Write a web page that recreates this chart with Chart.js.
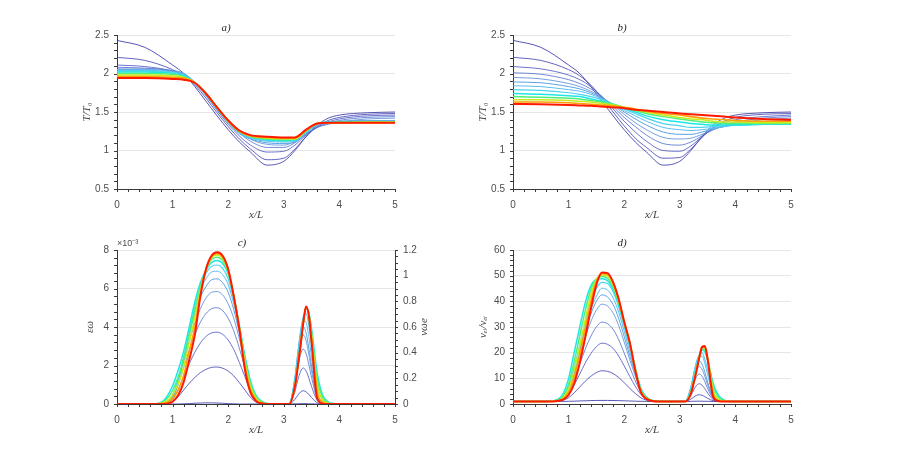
<!DOCTYPE html>
<html>
<head>
<meta charset="utf-8">
<script src="https://cdn.jsdelivr.net/npm/chart.js@4.4.1/dist/chart.umd.min.js"></script>
<style>
  body { margin: 0; background: #fff; width: 900px; height: 455px; position: relative; overflow: hidden; }
  canvas { position: absolute; }
</style>
</head>
<body>
<canvas id="panelA" width="363" height="222" style="left:57px;top:8px;width:363px;height:222px"></canvas>
<canvas id="panelB" width="363" height="222" style="left:453px;top:8px;width:363px;height:222px"></canvas>
<canvas id="panelC" width="380" height="222" style="left:57px;top:223px;width:380px;height:222px"></canvas>
<canvas id="panelD" width="363" height="222" style="left:453px;top:223px;width:363px;height:222px"></canvas>
<script>
// x positions (x/L) of the sampled points
const xAB = [0, 0.5, 1, 1.2, 1.4, 1.6, 1.8, 2, 2.2, 2.4, 2.7, 3, 3.2, 3.4, 3.6, 3.8, 4, 4.5, 5];
const xCD = [0, 0.6, 0.8, 0.9, 1.0, 1.1, 1.2, 1.3, 1.4, 1.5, 1.6, 1.7, 1.8, 1.9, 2.0, 2.1, 2.2, 2.3, 2.4, 2.5, 2.6, 2.8,
             3.0, 3.1, 3.2, 3.25, 3.3, 3.35, 3.4, 3.45, 3.5, 3.6, 3.7, 3.8, 3.9, 4.1, 5];

// a) T/T0, one row per time step (first = darkest blue, last = red)
const tempA = [
  [2.43, 2.34, 2.11, 2.0, 1.83, 1.64, 1.45, 1.27, 1.11, 0.98, 0.81, 0.86, 1.0, 1.18, 1.33, 1.42, 1.46, 1.49, 1.5],
  [2.21, 2.17, 2.05, 1.97, 1.85, 1.68, 1.49, 1.31, 1.15, 1.02, 0.88, 0.9, 1.02, 1.18, 1.31, 1.39, 1.43, 1.47, 1.48],
  [2.11, 2.09, 2.03, 1.97, 1.87, 1.71, 1.52, 1.34, 1.19, 1.07, 0.98, 0.99, 1.07, 1.2, 1.3, 1.37, 1.41, 1.45, 1.46],
  [2.08, 2.07, 2.03, 1.98, 1.88, 1.72, 1.54, 1.37, 1.23, 1.12, 1.04, 1.04, 1.1, 1.21, 1.3, 1.35, 1.39, 1.43, 1.44],
  [2.06, 2.06, 2.04, 2.0, 1.89, 1.73, 1.55, 1.39, 1.26, 1.15, 1.08, 1.07, 1.12, 1.22, 1.3, 1.34, 1.37, 1.41, 1.42],
  [2.05, 2.05, 2.03, 2.0, 1.88, 1.72, 1.53, 1.36, 1.22, 1.15, 1.1, 1.09, 1.11, 1.22, 1.33, 1.37, 1.38, 1.39, 1.39],
  [2.04, 2.04, 2.02, 1.99, 1.88, 1.73, 1.54, 1.37, 1.23, 1.16, 1.12, 1.11, 1.12, 1.23, 1.34, 1.37, 1.38, 1.38, 1.38],
  [2.03, 2.03, 2.01, 1.98, 1.88, 1.73, 1.55, 1.37, 1.24, 1.17, 1.13, 1.12, 1.13, 1.24, 1.34, 1.37, 1.37, 1.38, 1.38],
  [2.02, 2.02, 2.0, 1.97, 1.88, 1.73, 1.55, 1.38, 1.24, 1.18, 1.14, 1.13, 1.14, 1.25, 1.35, 1.37, 1.37, 1.37, 1.37],
  [2.0, 2.0, 1.99, 1.96, 1.88, 1.74, 1.55, 1.38, 1.25, 1.18, 1.15, 1.14, 1.15, 1.25, 1.35, 1.36, 1.37, 1.37, 1.37],
  [1.98, 1.98, 1.97, 1.95, 1.88, 1.74, 1.56, 1.38, 1.25, 1.19, 1.16, 1.15, 1.15, 1.26, 1.35, 1.36, 1.36, 1.37, 1.37],
  [1.96, 1.96, 1.95, 1.94, 1.88, 1.74, 1.56, 1.39, 1.25, 1.19, 1.17, 1.16, 1.16, 1.26, 1.35, 1.36, 1.36, 1.36, 1.36],
  [1.94, 1.94, 1.93, 1.92, 1.88, 1.74, 1.56, 1.39, 1.26, 1.2, 1.18, 1.17, 1.17, 1.27, 1.35, 1.36, 1.36, 1.36, 1.36]
];

// b) T/T0
const tempB = [
  [2.43, 2.34, 2.11, 2.0, 1.83, 1.64, 1.45, 1.27, 1.11, 0.98, 0.81, 0.86, 1.0, 1.18, 1.33, 1.42, 1.46, 1.49, 1.5],
  [2.21, 2.17, 2.05, 1.97, 1.85, 1.68, 1.5, 1.32, 1.16, 1.04, 0.9, 0.91, 1.02, 1.17, 1.3, 1.38, 1.43, 1.47, 1.48],
  [2.09, 2.06, 1.98, 1.92, 1.83, 1.7, 1.54, 1.38, 1.24, 1.12, 1.0, 0.99, 1.06, 1.18, 1.29, 1.36, 1.4, 1.44, 1.46],
  [2.01, 1.99, 1.92, 1.87, 1.8, 1.7, 1.57, 1.43, 1.31, 1.2, 1.09, 1.07, 1.11, 1.19, 1.27, 1.33, 1.37, 1.42, 1.44],
  [1.95, 1.93, 1.87, 1.83, 1.77, 1.69, 1.59, 1.47, 1.36, 1.27, 1.17, 1.15, 1.16, 1.21, 1.27, 1.32, 1.35, 1.4, 1.42],
  [1.89, 1.88, 1.83, 1.8, 1.75, 1.68, 1.6, 1.5, 1.41, 1.33, 1.24, 1.21, 1.21, 1.24, 1.28, 1.31, 1.34, 1.37, 1.39],
  [1.84, 1.83, 1.79, 1.77, 1.73, 1.67, 1.6, 1.52, 1.45, 1.38, 1.3, 1.27, 1.26, 1.27, 1.29, 1.31, 1.33, 1.35, 1.37],
  [1.79, 1.78, 1.75, 1.73, 1.7, 1.66, 1.6, 1.54, 1.48, 1.42, 1.35, 1.32, 1.3, 1.3, 1.31, 1.32, 1.33, 1.34, 1.35],
  [1.74, 1.73, 1.71, 1.7, 1.67, 1.64, 1.6, 1.55, 1.5, 1.45, 1.4, 1.37, 1.35, 1.34, 1.33, 1.33, 1.33, 1.34, 1.34],
  [1.7, 1.69, 1.68, 1.67, 1.65, 1.63, 1.6, 1.56, 1.52, 1.48, 1.44, 1.41, 1.39, 1.37, 1.36, 1.35, 1.35, 1.35, 1.35],
  [1.66, 1.66, 1.65, 1.64, 1.63, 1.61, 1.59, 1.56, 1.53, 1.5, 1.46, 1.43, 1.41, 1.4, 1.38, 1.37, 1.37, 1.36, 1.36],
  [1.63, 1.63, 1.62, 1.61, 1.6, 1.59, 1.58, 1.56, 1.54, 1.51, 1.48, 1.46, 1.44, 1.42, 1.41, 1.4, 1.39, 1.38, 1.38],
  [1.605, 1.6, 1.59, 1.585, 1.58, 1.57, 1.56, 1.55, 1.53, 1.52, 1.5, 1.48, 1.47, 1.46, 1.45, 1.44, 1.43, 1.41, 1.4]
];

// c) eps_omega (x 1e-3)
const epsC = [
  [0, 0, 0, 0, 0, 0, 0.01, 0.02, 0.04, 0.05, 0.06, 0.06, 0.05, 0.04, 0.02, 0.01, 0, 0, 0, 0, 0, 0,
   0, 0, 0.01, 0.01, 0.02, 0.02, 0.02, 0.01, 0.01, 0, 0, 0, 0, 0, 0],
  [0, 0, 0, 0.02, 0.12, 0.38, 0.73, 1.08, 1.38, 1.63, 1.8, 1.9, 1.92, 1.86, 1.71, 1.46, 1.11, 0.73, 0.35, 0.1, 0.02, 0,
   0, 0.01, 0.24, 0.45, 0.62, 0.69, 0.63, 0.5, 0.33, 0.07, 0.01, 0, 0, 0, 0],
  [0, 0, 0, 0.04, 0.22, 0.75, 1.42, 2.09, 2.69, 3.17, 3.51, 3.69, 3.73, 3.62, 3.32, 2.83, 2.16, 1.42, 0.67, 0.19, 0.04, 0,
   0, 0.02, 0.65, 1.22, 1.68, 1.87, 1.72, 1.35, 0.9, 0.19, 0.02, 0, 0, 0, 0],
  [0, 0, 0, 0.05, 0.3, 1.0, 1.9, 2.8, 3.6, 4.25, 4.7, 4.95, 5.0, 4.85, 4.45, 3.8, 2.9, 1.9, 0.9, 0.25, 0.05, 0,
   0, 0.03, 1.0, 1.85, 2.57, 2.85, 2.62, 2.05, 1.37, 0.29, 0.03, 0, 0, 0, 0],
  [0, 0, 0, 0.06, 0.35, 1.15, 2.2, 3.25, 4.2, 4.95, 5.5, 5.8, 5.84, 5.67, 5.2, 4.45, 3.4, 2.2, 1.05, 0.3, 0.06, 0,
   0, 0.04, 1.26, 2.33, 3.23, 3.59, 3.3, 2.58, 1.72, 0.36, 0.04, 0, 0, 0, 0],
  [0, 0, 0, 0.07, 0.38, 1.25, 2.4, 3.6, 4.7, 5.55, 6.1, 6.45, 6.5, 6.3, 5.8, 4.9, 3.7, 2.4, 1.1, 0.32, 0.07, 0,
   0, 0.04, 1.4, 2.6, 3.6, 4.02, 3.7, 2.9, 1.95, 0.42, 0.05, 0, 0, 0, 0],
  [0, 0, 0.02, 0.08, 0.4, 1.25, 2.4, 3.7, 4.9, 5.9, 6.5, 6.85, 6.9, 6.72, 6.2, 5.2, 3.9, 2.45, 1.1, 0.33, 0.08, 0,
   0, 0.04, 1.35, 2.6, 3.8, 4.35, 4.25, 3.5, 2.4, 0.55, 0.08, 0.01, 0, 0, 0],
  [0, 0, 0.03, 0.12, 0.48, 1.25, 2.4, 3.7, 5.0, 6.1, 6.8, 7.15, 7.22, 7.05, 6.5, 5.4, 4.0, 2.4, 1.05, 0.33, 0.09, 0,
   0, 0.03, 1.2, 2.4, 3.6, 4.55, 4.7, 4.1, 3.0, 0.9, 0.2, 0.03, 0, 0, 0],
  [0, 0, 0.1, 0.4, 0.95, 1.75, 2.75, 4.0, 5.3, 6.3, 6.95, 7.35, 7.45, 7.3, 6.75, 5.6, 4.1, 2.5, 1.2, 0.45, 0.15, 0,
   0, 0.02, 1.0, 2.0, 3.1, 4.2, 4.95, 4.75, 3.9, 1.6, 0.45, 0.1, 0.02, 0, 0],
  [0, 0, 0.06, 0.28, 0.7, 1.4, 2.35, 3.6, 4.9, 6.1, 6.95, 7.5, 7.62, 7.45, 6.85, 5.6, 4.05, 2.35, 1.05, 0.38, 0.11, 0,
   0, 0.02, 0.96, 1.97, 3.06, 4.22, 4.98, 4.7, 3.75, 1.3, 0.35, 0.07, 0.01, 0, 0],
  [0, 0, 0.04, 0.16, 0.48, 1.05, 1.95, 3.2, 4.5, 5.9, 6.95, 7.6, 7.74, 7.55, 6.92, 5.6, 4.0, 2.2, 0.9, 0.3, 0.08, 0,
   0, 0.01, 0.93, 1.94, 3.03, 4.22, 5.02, 4.66, 3.55, 1.0, 0.22, 0.04, 0, 0, 0],
  [0, 0, 0.02, 0.08, 0.28, 0.72, 1.5, 2.75, 4.0, 5.75, 7.0, 7.65, 7.82, 7.65, 6.96, 5.6, 3.95, 2.0, 0.75, 0.22, 0.05, 0,
   0, 0, 0.91, 1.92, 3.01, 4.21, 5.04, 4.63, 3.4, 0.65, 0.1, 0.01, 0, 0, 0],
  [0, 0, 0, 0.02, 0.12, 0.45, 1.15, 2.3, 3.6, 5.6, 7.0, 7.7, 7.88, 7.7, 7.0, 5.6, 3.9, 1.8, 0.6, 0.15, 0.03, 0,
   0, 0, 0.9, 1.9, 3.0, 4.2, 5.06, 4.6, 3.2, 0.3, 0.02, 0, 0, 0, 0]
];

// d) nu_ei / nu_ei
const nuD = [
  [1, 1, 1, 1.02, 1.05, 1.11, 1.19, 1.26, 1.33, 1.38, 1.4, 1.39, 1.36, 1.31, 1.24, 1.17, 1.1, 1.05, 1.02, 1, 1, 1,
   1, 1, 1.04, 1.07, 1.09, 1.1, 1.09, 1.07, 1.05, 1.01, 1, 1, 1, 1, 1],
  [1, 1, 1.12, 1.48, 2.43, 4.35, 6.62, 8.89, 10.8, 12.23, 12.95, 12.71, 11.87, 10.32, 8.29, 6.14, 4.11, 2.43, 1.48, 1.12, 1, 1,
   1, 1.03, 1.91, 2.69, 3.34, 3.6, 3.39, 2.87, 2.25, 1.26, 1.03, 1, 1, 1, 1],
  [1, 1, 1.23, 1.91, 3.72, 7.36, 11.67, 15.98, 19.61, 22.34, 23.7, 23.25, 21.66, 18.71, 14.85, 10.76, 6.9, 3.72, 1.91, 1.23, 1, 1,
   1, 1.07, 3.42, 5.49, 7.21, 7.9, 7.35, 5.97, 4.31, 1.69, 1.07, 1, 1, 1, 1],
  [1, 1, 1.31, 2.24, 4.71, 9.65, 15.52, 21.39, 26.34, 30.05, 31.9, 31.28, 29.12, 25.1, 19.85, 14.29, 9.03, 4.71, 2.24, 1.31, 1, 1,
   1, 1.11, 4.75, 7.96, 10.63, 11.7, 10.84, 8.7, 6.14, 2.07, 1.11, 1, 1, 1, 1],
  [1, 1, 1.38, 2.52, 5.55, 11.61, 18.81, 26.01, 32.08, 36.63, 38.9, 38.14, 35.49, 30.56, 24.12, 17.3, 10.85, 5.55, 2.52, 1.38, 1, 1,
   1, 1.14, 5.76, 9.84, 13.24, 14.6, 13.51, 10.79, 7.53, 2.36, 1.14, 1, 1, 1, 1],
  [1, 1, 1.42, 2.66, 5.98, 12.62, 20.51, 28.39, 35.03, 40.01, 42.5, 41.67, 38.77, 33.37, 26.32, 18.85, 11.79, 5.98, 2.66, 1.42, 1, 1,
   1, 1.16, 6.53, 11.27, 15.22, 16.8, 15.54, 12.38, 8.58, 2.58, 1.16, 1, 1, 1, 1],
  [1, 1, 1.45, 2.8, 6.3, 13.2, 21.5, 29.8, 36.8, 42, 45.1, 44.4, 41.4, 35.8, 28.4, 20.4, 12.5, 6.1, 2.7, 1.45, 1, 1,
   1, 1.15, 6.6, 11.8, 16.2, 18.3, 18.6, 15.8, 11.5, 3.5, 1.4, 1.05, 1, 1, 1],
  [1, 1, 1.5, 3.0, 6.8, 14.2, 23, 32, 39.5, 45, 47.4, 46.9, 43.8, 38, 30.2, 22, 13.2, 6, 2.7, 1.45, 1.05, 1,
   1, 1.12, 6.3, 11.5, 16.5, 19.3, 19.9, 17.5, 13.2, 4.5, 1.8, 1.1, 1, 1, 1],
  [1, 1, 1.8, 4, 10, 20, 30, 39.5, 46, 48.5, 48.8, 48, 44.5, 38.5, 31, 23.5, 14, 6, 2.6, 1.4, 1.05, 1,
   1, 1.04, 4.8, 9.3, 13.7, 18.2, 21.0, 20.3, 17.2, 8.0, 3.2, 1.5, 1.1, 1, 1],
  [1, 1, 1.5, 3.0, 7.8, 16.5, 26.5, 36.5, 44.5, 48.8, 49.7, 49, 45.5, 39.5, 31.5, 23.8, 13.8, 5.5, 2.4, 1.35, 1.05, 1,
   1, 1.03, 4.6, 9.1, 13.6, 18.3, 21.7, 21.0, 17.6, 7.0, 2.5, 1.3, 1.05, 1, 1],
  [1, 1, 1.35, 2.4, 5.8, 13, 22.5, 33, 42.5, 48.5, 50.3, 49.8, 46.5, 40.2, 31.8, 23.9, 13.5, 5.0, 2.2, 1.3, 1.0, 1,
   1, 1.02, 4.4, 8.8, 13.4, 18.3, 22.0, 21.6, 17.8, 5.5, 1.8, 1.15, 1.02, 1, 1],
  [1, 1, 1.25, 2.0, 4.5, 10.3, 19, 29.5, 40, 47.8, 50.8, 50.5, 47, 40.6, 32, 24, 13.2, 4.7, 2.1, 1.25, 1, 1,
   1, 1, 4.2, 8.5, 13.1, 18.2, 22.2, 22.2, 17.8, 4.0, 1.3, 1.05, 1, 1, 1],
  [1, 1, 1.2, 1.7, 3.5, 8, 16, 26, 37, 46.5, 51.2, 51, 47.5, 41, 32, 24, 13, 4.5, 2.0, 1.2, 1, 1,
   1, 1, 4.0, 8.2, 12.8, 18.0, 22.2, 22.6, 17.5, 2.8, 1.1, 1, 1, 1, 1]
];

// colour of each time step, dark blue -> red
const lineColors = ['#2c2ca0', '#3c3cb4', '#4650c0', '#4c6ccc', '#5288d8', '#58a2e4', '#5cbcee', '#4cd4f0',
                    '#1ee6e6', '#4ef07a', '#c8ec1e', '#ffa000', '#ff1a00'];
const lineWidths = [0.8, 0.8, 0.8, 0.8, 0.8, 1, 1, 1.2, 1.5, 1.5, 1.5, 1.6, 2];

const tickFont = { family: 'Liberation Sans', size: 10 };
const labelFont = { family: 'Liberation Serif', style: 'italic', size: 11 };
const tickColor = '#4d4d4d';
const axisColor = '#3a3a3a';

// 0.5, 1, 1.5 ... instead of 0.5, 1.0, 1.5
function plainNumber(v) {
    return String(Math.round(v * 100) / 100);
}

// minor ticks + extra texts (exponent, right y label)
const axisExtras = {
    id: 'axisExtras',
    afterDraw: function(chart, args, opts) {
        const ctx = chart.ctx;
        const area = chart.chartArea;
        ctx.save();
        ctx.strokeStyle = axisColor;
        ctx.lineWidth = 1;
        (opts.minor || []).forEach(function(m) {
            const scale = chart.scales[m.axis];
            const n = Math.round((scale.max - scale.min) / m.step);
            for (let k = 0; k <= n; k++) {
                const p = Math.round(scale.getPixelForValue(scale.min + k * m.step)) + 0.5;
                ctx.beginPath();
                if (m.axis === 'x') {
                    ctx.moveTo(p, area.bottom); ctx.lineTo(p, area.bottom + 3);
                } else if (scale.position === 'right') {
                    ctx.moveTo(area.right, p); ctx.lineTo(area.right + 3, p);
                } else {
                    ctx.moveTo(area.left - 3, p); ctx.lineTo(area.left, p);
                }
                ctx.stroke();
            }
        });
        (opts.texts || []).forEach(function(t) {
            const x = t.anchor === 'rightMid' ? area.right + t.dx : area.left + t.dx;
            const y = t.anchor === 'rightMid' ? (area.top + area.bottom) / 2 + t.dy : area.top + t.dy;
            ctx.save();
            ctx.translate(x, y);
            if (t.rotate) ctx.rotate(t.rotate);
            ctx.font = t.font;
            ctx.fillStyle = t.color || '#404040';
            ctx.textAlign = t.align;
            ctx.textBaseline = t.baseline;
            ctx.fillText(t.text, 0, 0);
            ctx.restore();
        });
        ctx.restore();
    }
};

function makeDatasets(xs, curves, yAxis) {
    return curves.map(function(ys, i) {
        return {
            data: ys.map(function(y, k) { return { x: xs[k], y: y }; }),
            borderColor: lineColors[i],
            borderWidth: lineWidths[i],
            pointRadius: 0,
            cubicInterpolationMode: 'monotone',
            yAxisID: yAxis,
            order: curves.length - i
        };
    });
}

function xScale() {
    return {
        type: 'linear', min: 0, max: 5,
        afterFit: function(s) { s.height = 41; },
        grid: { display: false, drawTicks: false },
        border: { color: axisColor },
        ticks: { stepSize: 1, padding: 10, color: tickColor, font: tickFont, maxRotation: 0, callback: plainNumber },
        title: { display: true, text: 'x/L', color: '#404040', font: labelFont, padding: { top: 0, bottom: 8.4 } }
    };
}

function yScale(min, max, step, label, titlePad) {
    return {
        type: 'linear', min: min, max: max,
        afterFit: function(s) { s.width = 60; },
        grid: { color: '#e6e6e6', drawTicks: false },
        border: { color: axisColor },
        ticks: { stepSize: step, padding: 8, color: tickColor, font: tickFont, callback: plainNumber },
        title: { display: true, text: label, color: '#404040', font: labelFont, padding: { top: titlePad, bottom: 0 } }
    };
}

function makeChart(id, title, datasets, scales, padRight, extras) {
    return new Chart(document.getElementById(id).getContext('2d'), {
        type: 'line',
        data: { datasets: datasets },
        options: {
            responsive: false,
            animation: false,
            layout: { padding: { left: 0, right: padRight, top: 0, bottom: 0 } },
            plugins: {
                legend: { display: false },
                tooltip: { enabled: false },
                title: {
                    display: true, text: title, color: '#262626',
                    font: { family: 'Liberation Serif', style: 'italic', weight: 'normal', size: 11 },
                    padding: { top: 13.4, bottom: 0.4 }
                },
                axisExtras: extras
            },
            scales: scales
        },
        plugins: [axisExtras]
    });
}

// a)
makeChart('panelA', 'a)', makeDatasets(xAB, tempA, 'y'),
    { x: xScale(), y: yScale(0.5, 2.5, 0.5, 'T/T₀', 23.4) }, 25,
    { minor: [{ axis: 'x', step: 0.2 }, { axis: 'y', step: 0.1 }] });

// b)
makeChart('panelB', 'b)', makeDatasets(xAB, tempB, 'y'),
    { x: xScale(), y: yScale(0.5, 2.5, 0.5, 'T/T₀', 23.4) }, 25,
    { minor: [{ axis: 'x', step: 0.2 }, { axis: 'y', step: 0.1 }] });

// c) with a second axis on the right
makeChart('panelC', 'c)', makeDatasets(xCD, epsC, 'y'),
    {
        x: xScale(),
        y: yScale(0, 8, 2, 'εω', 26.4),
        y2: {
            type: 'linear', position: 'right', min: 0, max: 1.2,
            afterFit: function(s) { s.width = 32; },
            grid: { drawOnChartArea: false, drawTicks: false },
            border: { color: axisColor },
            ticks: { stepSize: 0.2, padding: 8, color: tickColor, font: tickFont, callback: plainNumber }
        }
    }, 10,
    {
        minor: [{ axis: 'x', step: 0.2 }, { axis: 'y', step: 0.4 }, { axis: 'y2', step: 0.05 }],
        texts: [
            { text: '×10⁻³', anchor: 'topLeft', dx: 0, dy: -2, font: '9px "Liberation Sans"', align: 'left', baseline: 'bottom', color: '#4d4d4d' },
            { text: 'νωe', anchor: 'rightMid', dx: 29, dy: 0, rotate: -Math.PI / 2, font: 'italic 11px "Liberation Serif"', align: 'center', baseline: 'middle' }
        ]
    });

// d)
makeChart('panelD', 'd)', makeDatasets(xCD, nuD, 'y'),
    { x: xScale(), y: yScale(0, 60, 10, 'νₑᵢ/νₑᵢ', 23.4) }, 25,
    { minor: [{ axis: 'x', step: 0.2 }, { axis: 'y', step: 2 }] });
</script>
</body>
</html>
